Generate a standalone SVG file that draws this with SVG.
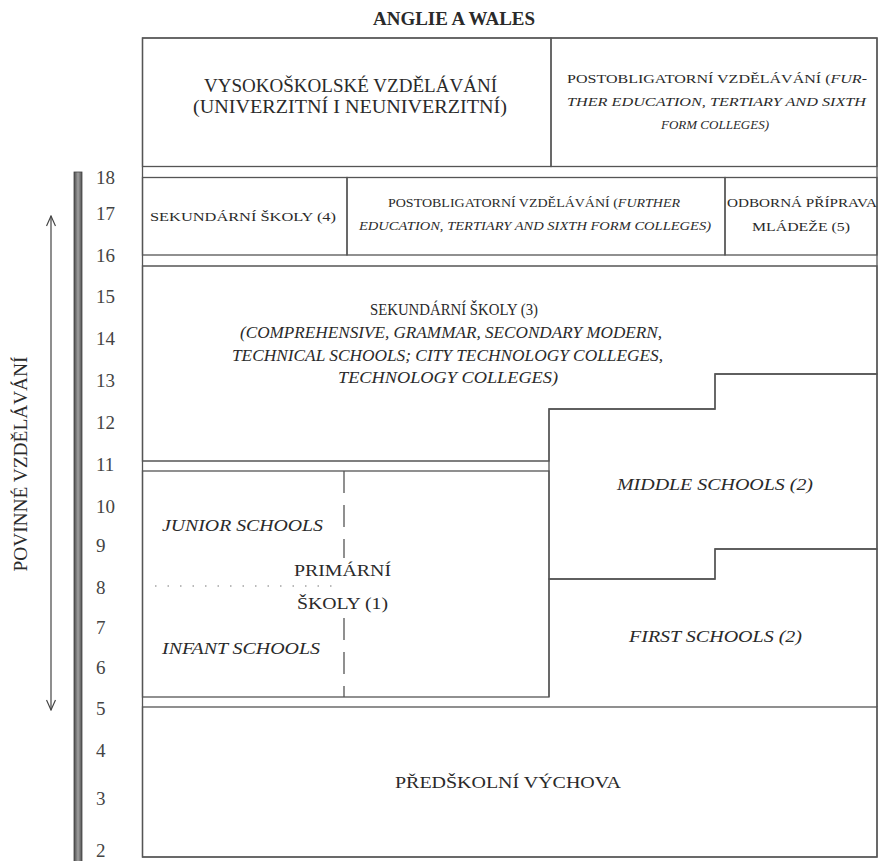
<svg xmlns="http://www.w3.org/2000/svg" width="881" height="861" viewBox="0 0 881 861">
<defs>
<style>
.t{font-family:"Liberation Serif","Times New Roman",serif;fill:#2a2a2a;}
.i{font-style:italic;}
.b{fill:none;stroke:#555;stroke-width:1.3;}
.num{font-family:"Liberation Serif","Times New Roman",serif;fill:#444;font-size:19px;}
</style>
<linearGradient id="bar" x1="0" y1="0" x2="1" y2="0">
<stop offset="0" stop-color="#4a4a4a"/>
<stop offset="0.5" stop-color="#a0a0a0"/>
<stop offset="1" stop-color="#505050"/>
</linearGradient>
<marker id="ah" viewBox="0 0 12 10" refX="11" refY="5" markerWidth="12" markerHeight="10" markerUnits="userSpaceOnUse" orient="auto-start-reverse">
<path d="M1,0.5 L11,5 L1,9.5" fill="none" stroke="#444" stroke-width="1.2"/>
</marker>
</defs>
<rect width="881" height="861" fill="#fff"/>

<g id="title"><text class="t" x="373" y="25" font-size="18" font-weight="bold" fill="#333" textLength="162" lengthAdjust="spacingAndGlyphs">ANGLIE A WALES</text></g>

<g id="age-scale">
<rect x="74" y="172" width="8" height="692" fill="url(#bar)" stroke="#444" stroke-width="0.8"/>
<text class="num" x="96" y="184">18</text>
<text class="num" x="96" y="220">17</text>
<text class="num" x="96" y="262">16</text>
<text class="num" x="96" y="303">15</text>
<text class="num" x="96" y="345">14</text>
<text class="num" x="96" y="387">13</text>
<text class="num" x="96" y="429">12</text>
<text class="num" x="96" y="471">11</text>
<text class="num" x="96" y="513">10</text>
<text class="num" x="96" y="552">9</text>
<text class="num" x="96" y="594">8</text>
<text class="num" x="96" y="634">7</text>
<text class="num" x="96" y="674">6</text>
<text class="num" x="96" y="715">5</text>
<text class="num" x="96" y="757">4</text>
<text class="num" x="96" y="805">3</text>
<text class="num" x="96" y="857">2</text>
</g>

<g id="compulsory-label"><text class="t" transform="translate(27,464) rotate(-90)" x="0" y="0" font-size="18" text-anchor="middle" textLength="215" lengthAdjust="spacingAndGlyphs">POVINNÉ VZDĚLÁVÁNÍ</text></g>

<g id="connectors">
<line x1="51" y1="216" x2="51" y2="710" stroke="#444" stroke-width="1.2" marker-start="url(#ah)" marker-end="url(#ah)"/>
</g>

<g id="frame"><rect class="b" x="142.5" y="38" width="734.5" height="819"/></g>

<g id="higher-education">
<rect class="b" x="142.5" y="38" width="408.5" height="128.5"/>
<text class="t" x="204" y="92" font-size="18" textLength="293" lengthAdjust="spacingAndGlyphs">VYSOKOŠKOLSKÉ VZDĚLÁVÁNÍ</text>
<text class="t" x="193" y="113" font-size="18" textLength="314" lengthAdjust="spacingAndGlyphs">(UNIVERZITNÍ I NEUNIVERZITNÍ)</text>
</g>

<g id="further-education-top">
<rect class="b" x="551" y="38" width="326" height="128.5"/>
<text class="t" x="567" y="83" font-size="13.5" textLength="300" lengthAdjust="spacingAndGlyphs">POSTOBLIGATORNÍ VZDĚLÁVÁNÍ (<tspan class="i">FUR-</tspan></text>
<text class="t i" x="567" y="106" font-size="13.5" textLength="299" lengthAdjust="spacingAndGlyphs">THER EDUCATION, TERTIARY AND SIXTH</text>
<text class="t i" x="661" y="129" font-size="13.5" textLength="108" lengthAdjust="spacingAndGlyphs">FORM COLLEGES)</text>
</g>

<g id="secondary-4">
<rect class="b" x="142.5" y="177.5" width="204.5" height="77.5"/>
<text class="t" x="150" y="221" font-size="13.5" textLength="186" lengthAdjust="spacingAndGlyphs">SEKUNDÁRNÍ ŠKOLY (4)</text>
</g>

<g id="further-education-middle">
<rect class="b" x="347" y="177.5" width="378" height="77.5"/>
<text class="t" x="388" y="207" font-size="12.5" textLength="292" lengthAdjust="spacingAndGlyphs">POSTOBLIGATORNÍ VZDĚLÁVÁNÍ (<tspan class="i">FURTHER</tspan></text>
<text class="t i" x="359" y="230" font-size="12.5" textLength="352" lengthAdjust="spacingAndGlyphs">EDUCATION, TERTIARY AND SIXTH FORM COLLEGES)</text>
</g>

<g id="youth-training">
<rect class="b" x="725" y="177.5" width="152" height="77.5"/>
<text class="t" x="727" y="207" font-size="13.5" textLength="150" lengthAdjust="spacingAndGlyphs">ODBORNÁ PŘÍPRAVA</text>
<text class="t" x="752" y="231" font-size="13.5" textLength="98" lengthAdjust="spacingAndGlyphs">MLÁDEŽE (5)</text>
</g>

<g id="secondary-3">
<path class="b" d="M142.5,266 H877 V374 H715 V409 H549 V461 H142.5 Z"/>
<text class="t" x="370" y="315" font-size="16" textLength="168" lengthAdjust="spacingAndGlyphs">SEKUNDÁRNÍ ŠKOLY (3)</text>
<text class="t i" x="240" y="338" font-size="16" textLength="422" lengthAdjust="spacingAndGlyphs">(COMPREHENSIVE, GRAMMAR, SECONDARY MODERN,</text>
<text class="t i" x="232" y="361" font-size="16" textLength="431" lengthAdjust="spacingAndGlyphs">TECHNICAL SCHOOLS; CITY TECHNOLOGY COLLEGES,</text>
<text class="t i" x="338" y="383" font-size="16" textLength="220" lengthAdjust="spacingAndGlyphs">TECHNOLOGY COLLEGES)</text>
</g>

<g id="primary">
<rect class="b" x="142.5" y="471" width="406.5" height="226"/>
<path d="M344,471 V558 M344,618 V697" fill="none" stroke="#555" stroke-width="1.3" stroke-dasharray="22 12"/>
<line x1="155" y1="586" x2="335" y2="586" stroke="#777" stroke-width="1.2" stroke-dasharray="1.5 11"/>
<text class="t i" x="162" y="531" font-size="16" textLength="161" lengthAdjust="spacingAndGlyphs">JUNIOR SCHOOLS</text>
<text class="t" x="294" y="576" font-size="16" textLength="97" lengthAdjust="spacingAndGlyphs">PRIMÁRNÍ</text>
<text class="t" x="297" y="609" font-size="16" textLength="91" lengthAdjust="spacingAndGlyphs">ŠKOLY (1)</text>
<text class="t i" x="162" y="654" font-size="16" textLength="158" lengthAdjust="spacingAndGlyphs">INFANT SCHOOLS</text>
</g>

<g id="middle-schools">
<path class="b" d="M549,409 H715 V374 H877 V549 H715 V579 H549 Z"/>
<text class="t i" x="617" y="490" font-size="16" textLength="196" lengthAdjust="spacingAndGlyphs">MIDDLE SCHOOLS (2)</text>
</g>

<g id="first-schools">
<path class="b" d="M549,697 V579 H715 V549 H877 V707"/>
<text class="t i" x="629" y="642" font-size="16" textLength="173" lengthAdjust="spacingAndGlyphs">FIRST SCHOOLS (2)</text>
</g>

<g id="preschool">
<rect class="b" x="142.5" y="707" width="734.5" height="150"/>
<text class="t" x="395" y="788" font-size="16" textLength="226" lengthAdjust="spacingAndGlyphs">PŘEDŠKOLNÍ VÝCHOVA</text>
</g>
</svg>
